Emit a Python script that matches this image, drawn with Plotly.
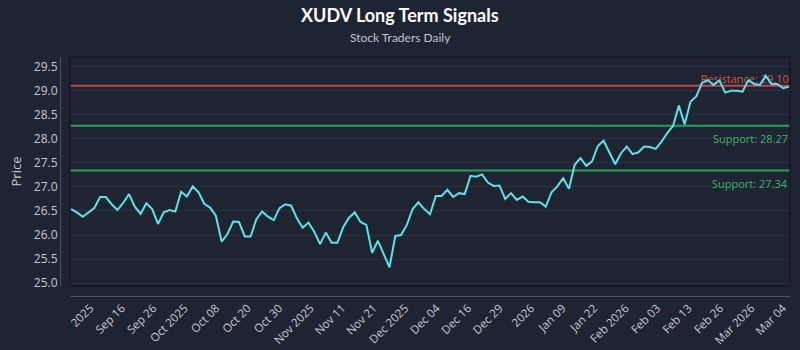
import plotly.graph_objects as go
import pandas as pd

# ---------------- data ----------------
dates = pd.bdate_range(end="2026-03-06", periods=125).strftime("%Y-%m-%d").tolist()

prices = [
    26.54, 26.47, 26.38, 26.47, 26.56, 26.79, 26.79, 26.64, 26.52, 26.67,
    26.85, 26.59, 26.44, 26.66, 26.54, 26.23, 26.47, 26.52, 26.49, 26.90,
    26.80, 27.01, 26.89, 26.65, 26.57, 26.40, 25.86, 26.02, 26.28, 26.27,
    25.97, 25.97, 26.33, 26.49, 26.38, 26.31, 26.56, 26.64, 26.61, 26.35,
    26.15, 26.26, 26.07, 25.81, 26.05, 25.84, 25.84, 26.16, 26.36, 26.47,
    26.27, 26.21, 25.63, 25.88, 25.59, 25.33, 25.98, 26.00, 26.21, 26.54,
    26.68, 26.54, 26.43, 26.81, 26.81, 26.94, 26.79, 26.87, 26.85, 27.23,
    27.21, 27.26, 27.09, 27.02, 27.03, 26.75, 26.87, 26.73, 26.80, 26.69,
    26.68, 26.68, 26.59, 26.89, 27.01, 27.18, 26.96, 27.46, 27.60, 27.44,
    27.53, 27.85, 27.96, 27.72, 27.47, 27.70, 27.84, 27.68, 27.72, 27.84,
    27.83, 27.79, 27.94, 28.12, 28.27, 28.69, 28.30, 28.77, 28.88, 29.16,
    29.22, 29.12, 29.21, 28.96, 29.00, 29.00, 28.98, 29.22, 29.14, 29.12,
    29.31, 29.14, 29.14, 29.05, 29.08,
]

resistance_levels = [29.10]
support_levels = [28.27, 27.34]

tick_labels = [
    "2025", "Sep 16", "Sep 26", "Oct 2025", "Oct 08", "Oct 20", "Oct 30",
    "Nov 2025", "Nov 11", "Nov 21", "Dec 2025", "Dec 04", "Dec 16", "Dec 29",
    "2026", "Jan 09", "Jan 22", "Feb 2026", "Feb 03", "Feb 13", "Feb 26",
    "Mar 2026", "Mar 04",
]
tick_start = 3.3
tick_step = 5.44
tick_positions = [tick_start + tick_step * k for k in range(len(tick_labels))]

title_text = "XUDV Long Term Signals"
subtitle_text = "Stock Traders Daily"

# ---------------- style ----------------
BG = "#1f2433"
BORDER = "#161a25"
AXIS = "#4a5163"
GRID = "#2a3040"
TICK = "#c6cad3"
PRICE = "#5fe1e8"
RED = "#c0474d"
RED_TXT = "#d9534f"
GREEN = "#2a9d5c"
GREEN_TXT = "#3bb36b"
FONT = "Open Sans, sans-serif"
TITLE_FONT = "Liberation Sans Narrow, Lato, sans-serif"

W, H = 800, 350
ML, MR, MT, MB = 60, 10, 57, 54
pw = W - ML - MR
ph = H - MT - MB

fig = go.Figure()

# resistance label drawn beneath the price line
for lv in resistance_levels:
    fig.add_trace(go.Scatter(
        x=[dates[-1]], y=[lv], mode="text",
        text=[f"Resistance: {lv:.2f}"], textposition="top left",
        textfont=dict(color=RED_TXT, size=11, family=FONT),
        hoverinfo="skip", showlegend=False,
    ))

fig.add_trace(go.Scatter(
    x=dates, y=prices, mode="lines",
    line=dict(color=PRICE, width=2),
    showlegend=False,
))

shapes = []
for lv in resistance_levels:
    shapes.append(dict(type="line", xref="x domain", yref="y", x0=0, x1=1,
                       y0=lv, y1=lv, line=dict(color=RED, width=2), layer="below"))
for lv in support_levels:
    shapes.append(dict(type="line", xref="x domain", yref="y", x0=0, x1=1,
                       y0=lv, y1=lv, line=dict(color=GREEN, width=2), layer="below"))
shapes.append(dict(type="rect", xref="x domain", yref="y domain", x0=0, x1=1,
                   y0=0, y1=1, line=dict(color=BORDER, width=1.5), layer="below"))

annotations = [
    dict(text=f"<b>{title_text}</b>", xref="paper", yref="paper",
         x=0.5 - (ML - MR) / 2 / pw, y=1 + (MT - 15) / ph,
         xanchor="center", yanchor="middle", showarrow=False,
         font=dict(family=TITLE_FONT, size=18, color="#ffffff")),
    dict(text=subtitle_text, xref="paper", yref="paper",
         x=0.5 - (ML - MR) / 2 / pw, y=1 + (MT - 38) / ph,
         xanchor="center", yanchor="middle", showarrow=False,
         font=dict(family=TITLE_FONT, size=12, color="#c0c5ce")),
]
for lv in support_levels:
    annotations.append(dict(
        text=f"Support: {lv:.2f}", xref="x domain", yref="y",
        x=1, y=lv, xanchor="right", yanchor="top", yshift=-3, xshift=0,
        showarrow=False, font=dict(color=GREEN_TXT, size=11, family=FONT),
    ))

fig.update_layout(
    width=W, height=H,
    margin=dict(l=ML, r=MR, t=MT, b=MB, autoexpand=False),
    paper_bgcolor=BG, plot_bgcolor=BG,
    font=dict(family=FONT, color=TICK, size=12),
    shapes=shapes,
    annotations=annotations,
    xaxis=dict(
        type="category",
        categoryorder="array", categoryarray=dates,
        domain=[10 / pw, 1],
        anchor="free", position=0,
        range=[-0.2, len(dates) - 1 + 0.2],
        tickmode="array", tickvals=tick_positions, ticktext=tick_labels,
        tickangle=-45, tickfont=dict(size=11.5, color=TICK),
        showgrid=False, zeroline=False,
        showline=True, linecolor=AXIS, linewidth=1,
        ticks="", automargin=False,
    ),
    yaxis=dict(
        domain=[10 / ph, 1],
        anchor="free", position=0,
        range=[24.94, 29.70],
        dtick=0.5, tick0=25, tickformat=".1f",
        tickfont=dict(size=12, color=TICK),
        showgrid=True, gridcolor=GRID, gridwidth=1,
        zeroline=False,
        showline=True, linecolor=AXIS, linewidth=1,
        ticks="", automargin=False,
        title=dict(text="Price", font=dict(size=13, color=TICK), standoff=8),
    ),
)

fig.write_html("out.html")
